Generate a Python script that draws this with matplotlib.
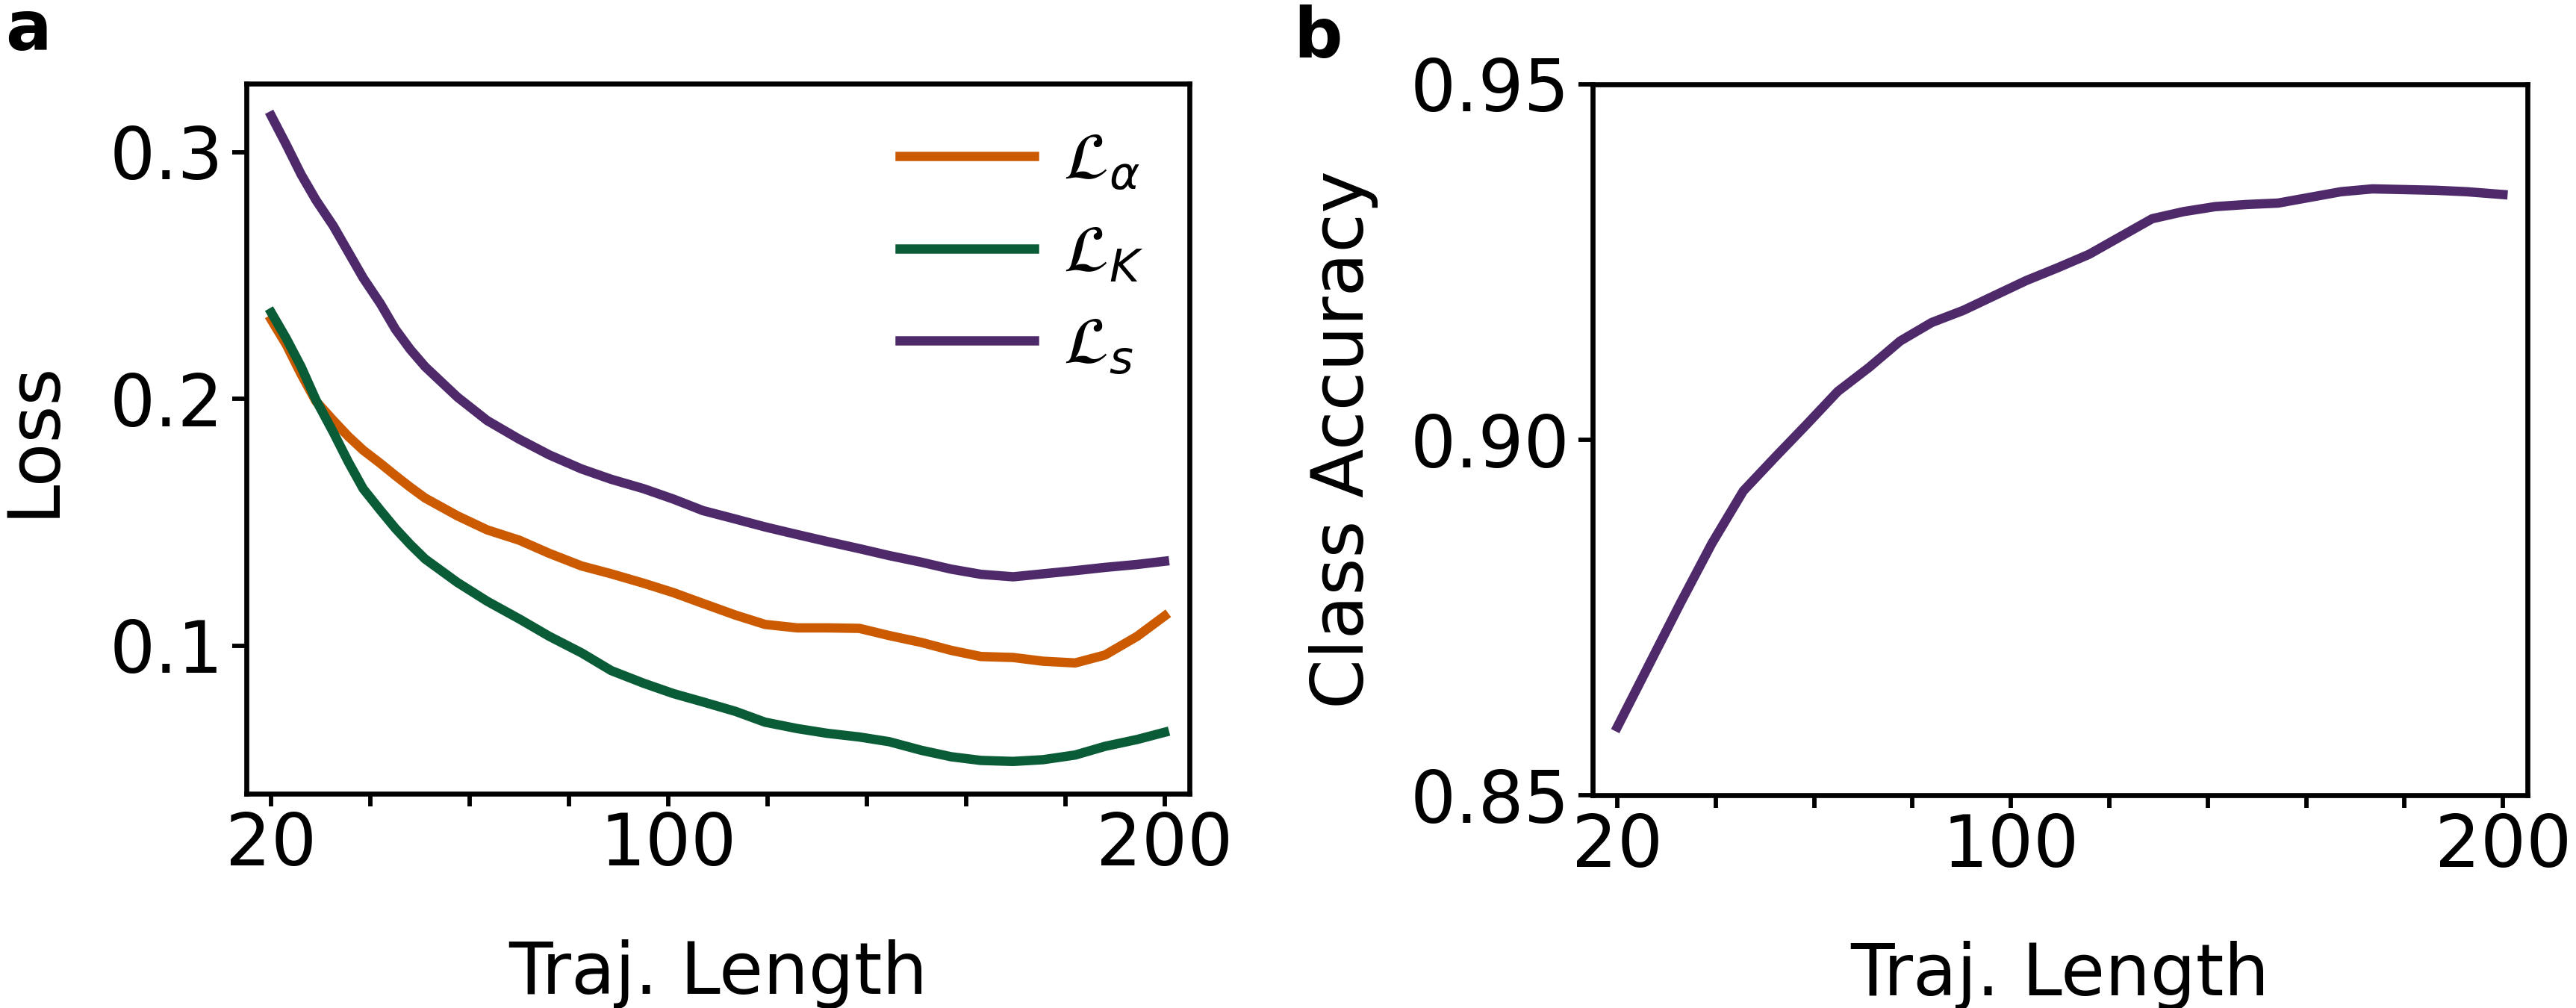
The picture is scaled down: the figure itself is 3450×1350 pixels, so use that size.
import numpy as np
import matplotlib
matplotlib.use("Agg")
import matplotlib.pyplot as plt

# --- data ---
traj_len_a = [20, 23, 26, 29, 32.5, 35.5, 38.5, 42, 45, 48, 51, 57.5, 63.5, 70, 76, 82.5, 88.5,
              95, 101, 107, 113.5, 119.5, 126, 132, 138.5, 144.5, 151, 157, 163, 169.5, 175.5,
              182, 188, 194.5, 200]
loss_alpha = [0.232, 0.222, 0.210, 0.199, 0.1912, 0.1848, 0.1792, 0.1738, 0.1689, 0.1642,
              0.1598, 0.1526, 0.1469, 0.1427, 0.1374, 0.1323, 0.1291, 0.1253, 0.1215, 0.1171,
              0.1124, 0.1086, 0.1072, 0.1072, 0.1070, 0.1041, 0.1013, 0.0981, 0.0956, 0.0952,
              0.0937, 0.0930, 0.0962, 0.1038, 0.1120]
loss_K = [0.2349, 0.2245, 0.213, 0.1995, 0.1864, 0.1745, 0.1636, 0.1548, 0.1475, 0.1410,
          0.1351, 0.1256, 0.1180, 0.1108, 0.1038, 0.0971, 0.0899, 0.0848, 0.0806, 0.0772,
          0.0734, 0.0690, 0.0664, 0.0645, 0.0630, 0.0611, 0.0576, 0.0550, 0.0535, 0.0531,
          0.0538, 0.0557, 0.0592, 0.0620, 0.0649]
loss_s = [0.3146, 0.3030, 0.2909, 0.2805, 0.270, 0.2595, 0.249, 0.2385, 0.2282, 0.2200,
          0.213, 0.2007, 0.1912, 0.1836, 0.1773, 0.1716, 0.1674, 0.1636, 0.1594, 0.1547,
          0.1513, 0.1481, 0.1450, 0.1422, 0.1393, 0.1365, 0.1338, 0.1310, 0.1289, 0.1279,
          0.1291, 0.1304, 0.1317, 0.1329, 0.1342]

traj_len_b = [20, 26.4, 32.8, 39.2, 45.6, 52, 58.4, 64.8, 71.2, 77.5, 83.9, 90.3, 96.7, 103.1,
              109.5, 115.9, 122.3, 128.7, 135.1, 141.5, 147.9, 154.3, 160.7, 167.1, 173.5,
              179.9, 186.3, 192.6, 200]
class_acc = [0.8596, 0.8683, 0.8770, 0.8854, 0.8928, 0.8975, 0.9021, 0.9068, 0.9102, 0.9139,
             0.9165, 0.9182, 0.9203, 0.9224, 0.9242, 0.9261, 0.9286, 0.9311, 0.9321, 0.9328,
             0.9331, 0.9333, 0.9341, 0.9349, 0.9353, 0.9352, 0.9351, 0.9349, 0.9345]

labels = [r'$\mathcal{L}_\alpha$', r'$\mathcal{L}_K$', r'$\mathcal{L}_s$']
colors = ['#cc5a00', '#0a5c36', '#4e2a6b']

plt.rcParams['font.family'] = 'DejaVu Sans'
plt.rcParams['font.size'] = 23

fig = plt.figure(figsize=(11.5, 4.5), dpi=300)
ax1 = fig.add_axes([0.0957, 0.2126, 0.366, 0.7044])
ax2 = fig.add_axes([0.6183, 0.2111, 0.3629, 0.7052])

# --- panel a ---
for y, lab, c in zip([loss_alpha, loss_K, loss_s], labels, colors):
    ax1.plot(traj_len_a, y, color=c, lw=3, label=lab, solid_joinstyle='round')
ax1.set_yticks([0.1, 0.2, 0.3])
ax1.set_yticklabels(['0.1', '0.2', '0.3'])
ax1.set_ylabel('Loss', labelpad=13)
leg = ax1.legend(loc='upper left', frameon=False, fontsize=21, handlelength=2.05,
                 handletextpad=0.45, labelspacing=0.45, borderpad=0, borderaxespad=0,
                 bbox_to_anchor=(0.693, 0.935))

# --- panel b ---
ax2.plot(traj_len_b, class_acc, color=colors[2], lw=3, solid_joinstyle='round')
ax2.set_ylim(0.85, 0.95)
ax2.set_yticks([0.85, 0.90, 0.95])
ax2.set_yticklabels(['0.85', '0.90', '0.95'])
ax2.set_ylabel('Class Accuracy', labelpad=10)

for ax in (ax1, ax2):
    ax.set_xlim(15, 205)
    ax.set_xticks([20, 100, 200])
    ax.set_xticks(np.arange(20, 201, 20), minor=True)
    ax.tick_params(axis='x', which='both', length=4, width=1.4, pad=1.5)
    ax.tick_params(axis='y', which='both', length=4.5, width=1.4, pad=3)
    ax.set_xlabel('Traj. Length', labelpad=19)
    for sp in ax.spines.values():
        sp.set_linewidth(1.6)

fig.text(0.002, 0.950, 'a', fontsize=22, fontweight='bold', va='baseline')
fig.text(0.502, 0.943, 'b', fontsize=22, fontweight='bold', va='baseline')

fig.savefig('out.png', dpi=300)
